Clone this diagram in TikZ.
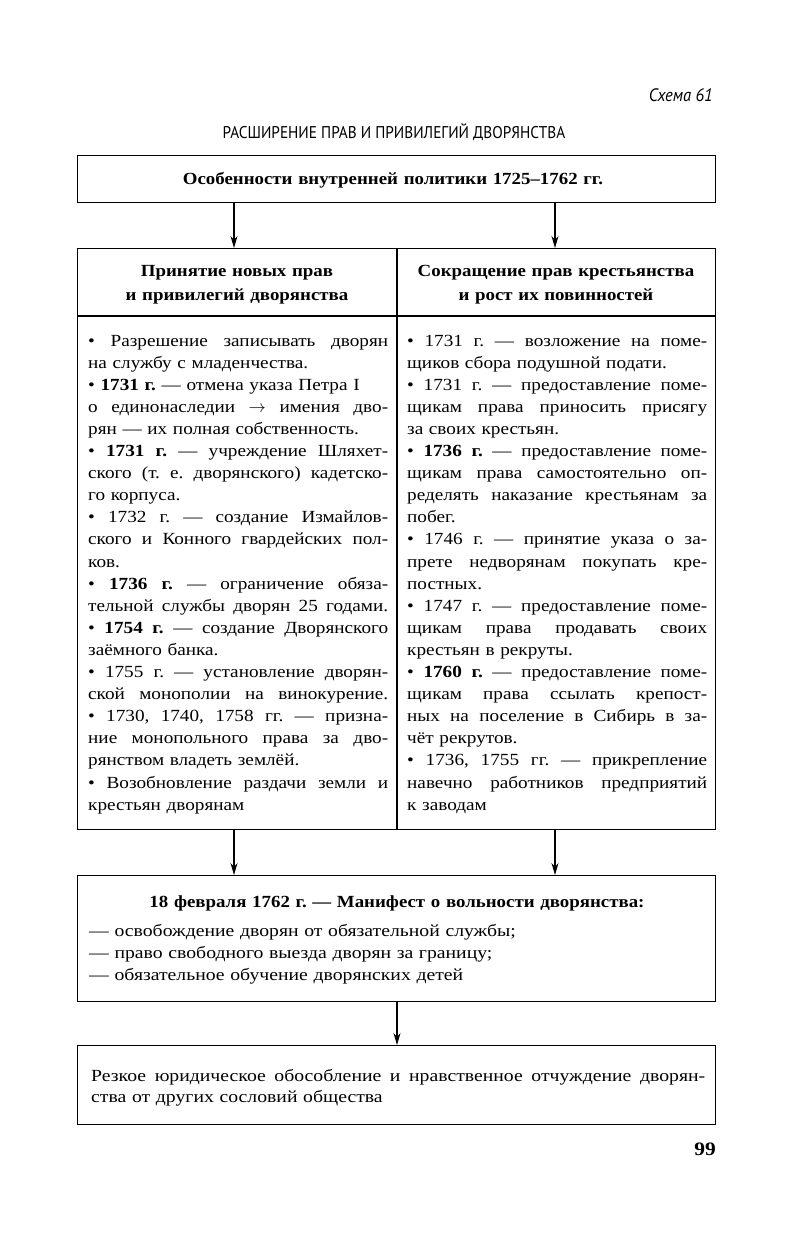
\documentclass[tikz,border=0pt]{standalone}
\usepackage{fontspec}
\setmainfont{Liberation Serif}[FakeStretch=1.13]
\newfontfamily\condsans[FakeStretch=0.9]{PT Sans}
\newfontfamily\condsansit[FakeStretch=0.92]{PT Sans Italic}
\newfontfamily\headserif[FakeStretch=1.11]{Liberation Serif}
\newfontfamily\wideserif[FakeStretch=1.16]{Liberation Serif}
\usetikzlibrary{arrows.meta}
\frenchspacing
\newcommand\fsz{\fontsize{17}{22.1}\selectfont}
\newcommand\J[2][300pt]{\makebox[#1][s]{\spaceskip=0pt\xspaceskip=0pt\relax #2}}
\begin{document}
\frenchspacing
\begin{tikzpicture}[x=1pt,y=-1pt,
  box/.style={draw, line width=1.3pt, inner sep=0pt, anchor=north west},
  rule/.style={line width=1.3pt},
  arr/.style={-{Stealth[length=12pt,width=7pt]}, line width=1.2pt},
  col/.style={anchor=base west, inner sep=0pt, text width=300pt, align=left, font=\fsz\frenchspacing},
  head/.style={anchor=base, inner sep=0pt, text width=330pt, align=center, font=\headserif\fontsize{17}{24}\selectfont\bfseries},
]
\useasboundingbox[fill=white] (0,0) rectangle (791,1245);

\node[anchor=base east, inner sep=0pt, font=\condsansit\fontsize{18}{20}\selectfont] (schema) at (713,101) {Схема 61};
\node[anchor=base, inner sep=0pt, font=\condsans\fontsize{17}{19}\selectfont] (title) at (394,138) {РАСШИРЕНИЕ ПРАВ И ПРИВИЛЕГИЙ ДВОРЯНСТВА};

% top box
\node[box, minimum width=638pt, minimum height=47pt] (top) at (77,155) {};
\node[head, text width=600pt] (toptext) at (393,184) {Особенности внутренней политики 1725–1762 гг.};

% table
\node[box, minimum width=638pt, minimum height=581pt] (mid) at (77,248) {};
\coordinate (cdiv) at (397,0);
\coordinate (hdiv) at (0,316);
\draw[rule] (cdiv |- mid.north) -- (cdiv |- mid.south);
\draw[rule] (hdiv -| mid.west) -- (hdiv -| mid.east);
\node[head] (lh) at (237,276) {Принятие новых прав\\и привилегий дворянства};
\node[head] (rh) at (556,276) {Сокращение прав крестьянства\\и рост их повинностей};

\node[col] (lcol) at (88,346) {%
\J{• Разрешение записывать дворян}\\
на службу с младенчества.\\
• \textbf{1731 г.} — отмена указа Петра I\\
\J{о единонаследии $\rightarrow$ имения дво-}\\
рян — их полная собственность.\\
\J{• \textbf{1731 г.} — учреждение Шляхет-}\\
\J{ского (т. е. дворянского) кадетско-}\\
го корпуса.\\
\J{• 1732 г. — создание Измайлов-}\\
\J{ского и Конного гвардейских пол-}\\
ков.\\
\J{• \textbf{1736 г.} — ограничение обяза-}\\
\J{тельной службы дворян 25 годами.}\\
\J{• \textbf{1754 г.} — создание Дворянского}\\
заёмного банка.\\
\J{• 1755 г. — установление дворян-}\\
\J{ской монополии на винокурение.}\\
\J{• 1730, 1740, 1758 гг. — призна-}\\
\J{ние монопольного права за дво-}\\
рянством владеть землёй.\\
\J{• Возобновление раздачи земли и}\\
крестьян дворянам};

\node[col] (rcol) at (407,346) {%
\J{• 1731 г. — возложение на поме-}\\
щиков сбора подушной подати.\\
\J{• 1731 г. — предоставление поме-}\\
\J{щикам права приносить присягу}\\
за своих крестьян.\\
\J{• \textbf{1736 г.} — предоставление поме-}\\
\J{щикам права самостоятельно оп-}\\
\J{ределять наказание крестьянам за}\\
побег.\\
\J{• 1746 г. — принятие указа о за-}\\
\J{прете недворянам покупать кре-}\\
постных.\\
\J{• 1747 г. — предоставление поме-}\\
\J{щикам права продавать своих}\\
крестьян в рекруты.\\
\J{• \textbf{1760 г.} — предоставление поме-}\\
\J{щикам права ссылать крепост-}\\
\J{ных на поселение в Сибирь в за-}\\
чёт рекрутов.\\
\J{• 1736, 1755 гг. — прикрепление}\\
\J{навечно работников предприятий}\\
к заводам};

% manifest
\node[box, minimum width=638pt, minimum height=126pt] (man) at (77,875) {};
\node[head, text width=600pt] (mantitle) at (397,907) {18 февраля 1762 г. — Манифест о вольности дворянства:};
\node[anchor=base west, inner sep=0pt, text width=614pt, align=left, font=\wideserif\fontsize{17}{22}\selectfont] (manlist) at (89,936) {%
— освобождение дворян от обязательной службы;\\
— право свободного выезда дворян за границу;\\
— обязательное обучение дворянских детей};

% final
\node[box, minimum width=638pt, minimum height=79pt] (fin) at (77,1045) {};
\node[anchor=base west, inner sep=0pt, text width=614pt, align=left, font=\wideserif\fontsize{17}{21}\selectfont] (fintext) at (91,1081) {%
\J[614pt]{Резкое юридическое обособление и нравственное отчуждение дворян-}\\
ства от других сословий общества};

\node[anchor=base east, inner sep=0pt, font=\fontsize{19}{21}\selectfont\bfseries] (page) at (716,1155) {99};

% arrows
\coordinate (xa) at (234,0);
\coordinate (xb) at (555,0);
\coordinate (xc) at (397,0);
\draw[arr] (xa |- top.south) -- (xa |- mid.north);
\draw[arr] (xb |- top.south) -- (xb |- mid.north);
\draw[arr] (xa |- mid.south) -- (xa |- man.north);
\draw[arr] (xb |- mid.south) -- (xb |- man.north);
\draw[arr] (xc |- man.south) -- (xc |- fin.north);
\end{tikzpicture}
\end{document}
